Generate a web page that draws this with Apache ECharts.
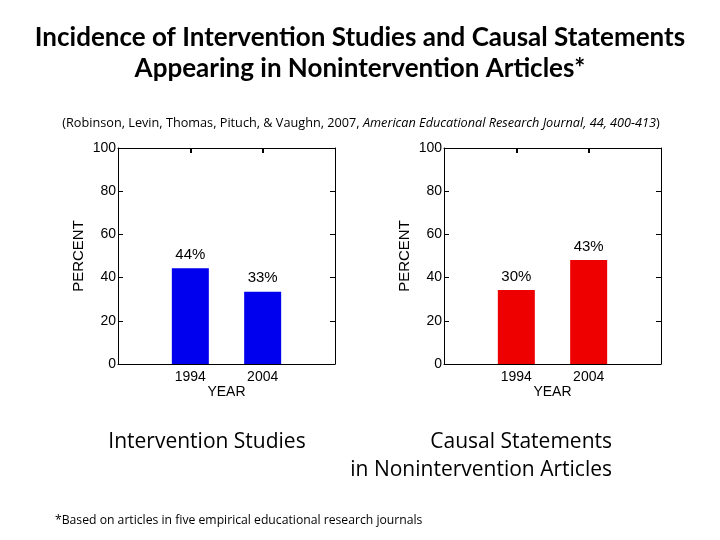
<!DOCTYPE html>
<html><head><meta charset="utf-8">
<script src="https://cdn.jsdelivr.net/npm/echarts@6/dist/echarts.min.js"></script>
<style>html,body{margin:0;padding:0;background:#fff}#c{width:720px;height:540px}</style>
</head><body><div id="c"></div>
<script>
const years = ['1994', '2004'];
const interventionValues = [44.3, 33.4];
const interventionLabels = ['44%', '33%'];
const causalValues = [34.3, 48.2];
const causalLabels = ['30%', '43%'];

const cats = [''].concat(years, ['']);
const chart = echarts.init(document.getElementById('c'));
const tickFont = {fontFamily: 'Liberation Sans', fontSize: 14, color: '#000'};
const lineStyle = {color: '#000', width: 1};

function panel(idx, left) {
  return {
    grid: {left: left, top: 148, width: 217, height: 216},
    xAxes: [
      {gridIndex: idx, type: 'category', data: cats, boundaryGap: false, position: 'bottom',
       axisLine: {onZero: false, lineStyle: lineStyle}, axisTick: {show: false},
       axisLabel: Object.assign({interval: 0, margin: 6}, tickFont),
       name: 'YEAR', nameLocation: 'middle', nameGap: 21, nameTextStyle: tickFont},
      {gridIndex: idx, type: 'category', data: cats, boundaryGap: false, position: 'top',
       axisLine: {onZero: false, lineStyle: lineStyle},
       axisTick: {show: true, inside: true, length: 5, interval: function (i) { return i === 1 || i === 2; }, lineStyle: {color: '#000', width: 2}},
       axisLabel: {show: false}}
    ],
    yAxes: [
      {gridIndex: idx, type: 'value', min: 0, max: 100, interval: 20, position: 'left',
       axisLine: {show: true, onZero: false, lineStyle: lineStyle}, axisTick: {show: true, inside: true, length: 5, lineStyle: lineStyle},
       splitLine: {show: false}, axisLabel: Object.assign({margin: 2}, tickFont),
       name: 'PERCENT', nameLocation: 'middle', nameGap: 32, nameRotate: 90,
       nameTextStyle: {fontFamily: 'Liberation Sans', fontSize: 15, color: '#000'}},
      {gridIndex: idx, type: 'value', min: 0, max: 100, interval: 20, position: 'right',
       axisLine: {show: true, onZero: false, lineStyle: lineStyle}, axisTick: {show: true, inside: true, length: 5, lineStyle: lineStyle},
       splitLine: {show: false}, axisLabel: {show: false}}
    ]
  };
}
const p0 = panel(0, 118), p1 = panel(1, 444);

function barSeries(idx, values, labels, color) {
  return {
    type: 'bar', xAxisIndex: idx * 2, yAxisIndex: idx * 2,
    data: [null].concat(values, [null]),
    barWidth: 37,
    itemStyle: {color: color},
    label: {show: true, position: 'top', distance: 6, fontFamily: 'Liberation Sans', fontSize: 15, color: '#000',
      formatter: p => labels[p.dataIndex - 1]}
  };
}

chart.setOption({
  animation: false,
  backgroundColor: '#fff',
  title: [
    {text: 'Incidence of Intervention Studies and Causal Statements\nAppearing in Nonintervention Articles*', left: 360, top: 22, textAlign: 'center', padding: 0,
     textStyle: {fontFamily: 'Lato', fontWeight: 'bold', fontSize: 26, lineHeight: 31, color: '#000'}},
    {text: '(Robinson, Levin, Thomas, Pituch, & Vaughn, 2007, {i|American Educational Research Journal, 44, 400-413})',
     left: 361, top: 117, textAlign: 'center', padding: 0,
     textStyle: {fontFamily: 'Open Sans', fontWeight: 'normal', fontSize: 12.7, color: '#000',
       rich: {i: {fontFamily: 'Open Sans', fontStyle: 'italic', fontWeight: 'normal', fontSize: 12.7, color: '#000'}}}},
    {text: 'Intervention Studies', left: 207, top: 432, textAlign: 'center', padding: 0,
     textStyle: {fontFamily: 'Open Sans', fontWeight: 'normal', fontSize: 21, color: '#000'}},
    {text: 'Causal Statements\nin Nonintervention Articles', left: 612, top: 428, textAlign: 'right', padding: 0,
     textStyle: {fontFamily: 'Open Sans', fontWeight: 'normal', fontSize: 21, lineHeight: 28, color: '#000', align: 'right'}},
    {text: '*Based on articles in five empirical educational research journals', left: 55, top: 515, padding: 0,
     textStyle: {fontFamily: 'Open Sans', fontWeight: 'normal', fontSize: 12.2, color: '#000'}}
  ],
  grid: [p0.grid, p1.grid],
  xAxis: p0.xAxes.concat(p1.xAxes),
  yAxis: p0.yAxes.concat(p1.yAxes),
  series: [
    barSeries(0, interventionValues, interventionLabels, '#0000ee'),
    barSeries(1, causalValues, causalLabels, '#ee0000')
  ]
});
</script></body></html>
